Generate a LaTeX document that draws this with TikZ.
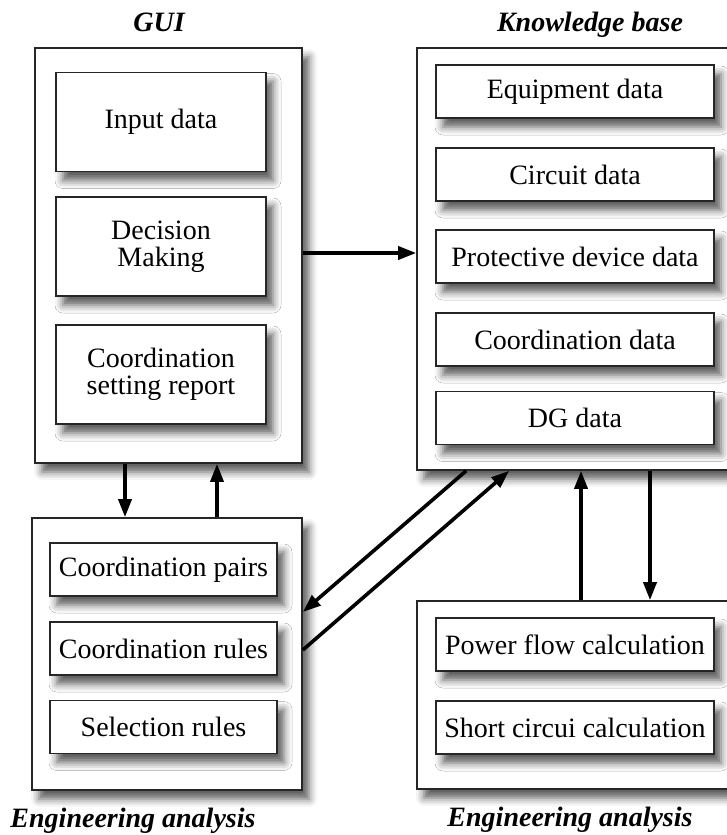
\documentclass[tikz,border=0pt]{standalone}
\usepackage{fontspec}
\setmainfont{Liberation Serif}
\usetikzlibrary{arrows.meta,shadows.blur}

\begin{document}
\begin{tikzpicture}[x=0.5pt,y=-0.5pt,
    frame/.style={draw=black!85,fill=white,line width=0.8pt,
        blur shadow={shadow xshift=3.5pt,shadow yshift=-4.5pt,shadow blur radius=4pt,shadow opacity=65}},
    outerbox/.style={frame,minimum width=#1},
    databox/.style={frame,inner sep=0pt,align=center,minimum width=#1,
        font=\fontsize{14}{13.5}\selectfont},
    title/.style={anchor=base,font=\fontsize{14}{14}\selectfont\bfseries\itshape},
    flow/.style={line width=1.8pt,-{Triangle[length=9pt,width=6.5pt]}}]
    % define variables.
    \def\gui{(168.5,255.5)}
    \def\kb{(578.5,259)}
    \def\eal{(167,654)}
    \def\ear{(578.5,695)}
    \clip (0,0) rectangle (727,835);
    % draw the outer boxes
    \node[outerbox=133.5pt,minimum height=207.5pt] (gui) at \gui {};
    \node[outerbox=161.5pt,minimum height=211pt] (kb) at \kb {};
    \node[outerbox=135pt,minimum height=136pt] (eal) at \eal {};
    \node[outerbox=161.5pt,minimum height=94pt] (ear) at \ear {};
    % draw the titles
    \node[title] (guititle) at (159,32) {GUI};
    \node[title] (kbtitle) at (590,32) {Knowledge base};
    \node[title] (ealtitle) at (133,827) {Engineering analysis};
    \node[title] (eartitle) at (570,826) {Engineering analysis};
    % draw the GUI boxes
    \node[databox=105pt,minimum height=49.5pt] (input) at (161,122) {Input data};
    \node[databox=105pt,minimum height=49.5pt] (decision) at (161,246.5) {Decision\\Making};
    \node[databox=105pt,minimum height=49.5pt] (report) at (161,374.5) {Coordination\\setting report};
    % draw the knowledge base boxes
    \node[databox=139pt,minimum height=26.5pt] (equip) at (575,91.5) {Equipment data};
    \node[databox=139pt,minimum height=26.5pt] (circuit) at (575,174.5) {Circuit data};
    \node[databox=139pt,minimum height=26.5pt] (protect) at (575,256.5) {Protective device data};
    \node[databox=139pt,minimum height=26.5pt] (coorddata) at (575,339.5) {Coordination data};
    \node[databox=139pt,minimum height=26.5pt] (dg) at (575,418) {DG data};
    % draw the rule boxes
    \node[databox=113.5pt,minimum height=26.5pt] (pairs) at (163.5,569.5) {Coordination pairs};
    \node[databox=113.5pt,minimum height=26.5pt] (rules) at (163.5,648.5) {Coordination rules};
    \node[databox=113.5pt,minimum height=26.5pt] (select) at (163.5,727) {Selection rules};
    % draw the calculation boxes
    \node[databox=139pt,minimum height=26.5pt] (power) at (575,644.5) {Power flow calculation};
    \node[databox=139pt,minimum height=26.5pt] (short) at (575,727.5) {Short circui calculation};
    % draw the edges
    \draw[flow] ([yshift=1.25pt]gui.east) -- ([yshift=1.25pt]gui.east -| kb.west);
    \draw[flow] ([xshift=-21.75pt]gui.south) -- ([xshift=-21.75pt]gui.south |- eal.north);
    \draw[flow] ([xshift=24.25pt]gui.south |- eal.north) -- ([xshift=24.25pt]gui.south);
    \draw[flow] ([xshift=25pt]kb.south west) -- ([yshift=21pt]eal.east);
    \draw[flow] ([yshift=2pt]eal.east) -- ([xshift=46.5pt]kb.south west);
    \draw[flow] ([xshift=1.25pt]ear.north) -- ([xshift=1.25pt]ear.north |- kb.south);
    \draw[flow] ([xshift=35.75pt]ear.north |- kb.south) -- ([xshift=35.75pt]ear.north);
\end{tikzpicture}
\end{document}
